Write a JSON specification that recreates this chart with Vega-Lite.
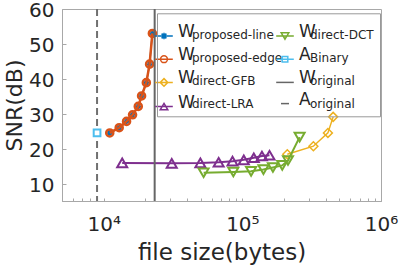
{
  "$schema": "https://vega.github.io/schema/vega-lite/v6.json",
  "width": 319,
  "height": 192,
  "autosize": "none",
  "padding": {"left": 62, "top": 9, "right": 18, "bottom": 69},
  "background": "white",
  "config": {
    "view": {"stroke": "#a8a8a8", "strokeWidth": 1},
    "font": "DejaVu Sans",
    "axis": {"domainColor": "#a8a8a8", "tickColor": "#a8a8a8", "labelColor": "#262626", "titleColor": "#262626", "labelFont": "DejaVu Sans", "titleFont": "DejaVu Sans", "labelFontSize": 20, "titleFontSize": 22, "titleFontWeight": "normal", "grid": false},
    "legend": {"orient": "none", "title": null, "labelFont": "DejaVu Sans", "labelColor": "#262626"}
  },
  "resolve": {"scale": {"color": "independent", "shape": "independent", "strokeDash": "independent"}, "legend": {"color": "independent", "shape": "independent", "strokeDash": "independent"}},
  "data": {
    "values": [
      {"series": "W proposed-line", "i": 1, "x": 11050, "y": 24.5},
      {"series": "W proposed-line", "i": 2, "x": 12930, "y": 26.0},
      {"series": "W proposed-line", "i": 3, "x": 14610, "y": 27.8},
      {"series": "W proposed-line", "i": 4, "x": 16140, "y": 29.7},
      {"series": "W proposed-line", "i": 5, "x": 17750, "y": 32.1},
      {"series": "W proposed-line", "i": 6, "x": 18750, "y": 35.1},
      {"series": "W proposed-line", "i": 7, "x": 20290, "y": 38.9},
      {"series": "W proposed-line", "i": 8, "x": 21420, "y": 44.2},
      {"series": "W proposed-line", "i": 9, "x": 22430, "y": 53.0},
      {"series": "W proposed-edge", "i": 1, "x": 11050, "y": 24.5},
      {"series": "W proposed-edge", "i": 2, "x": 12930, "y": 26.0},
      {"series": "W proposed-edge", "i": 3, "x": 14610, "y": 27.8},
      {"series": "W proposed-edge", "i": 4, "x": 16140, "y": 29.7},
      {"series": "W proposed-edge", "i": 5, "x": 17750, "y": 32.1},
      {"series": "W proposed-edge", "i": 6, "x": 18750, "y": 35.1},
      {"series": "W proposed-edge", "i": 7, "x": 20290, "y": 38.9},
      {"series": "W proposed-edge", "i": 8, "x": 21420, "y": 44.2},
      {"series": "W proposed-edge", "i": 9, "x": 22430, "y": 53.0},
      {"series": "W direct-GFB", "i": 1, "x": 210900, "y": 18.4},
      {"series": "W direct-GFB", "i": 2, "x": 325300, "y": 20.7},
      {"series": "W direct-GFB", "i": 3, "x": 414000, "y": 24.5},
      {"series": "W direct-GFB", "i": 4, "x": 451700, "y": 29.1},
      {"series": "W direct-LRA", "i": 1, "x": 13590, "y": 15.9},
      {"series": "W direct-LRA", "i": 2, "x": 30950, "y": 15.8},
      {"series": "W direct-LRA", "i": 3, "x": 49800, "y": 15.9},
      {"series": "W direct-LRA", "i": 4, "x": 67450, "y": 16.1},
      {"series": "W direct-LRA", "i": 5, "x": 84900, "y": 16.4},
      {"series": "W direct-LRA", "i": 6, "x": 102400, "y": 16.8},
      {"series": "W direct-LRA", "i": 7, "x": 120900, "y": 17.4},
      {"series": "W direct-LRA", "i": 8, "x": 138400, "y": 17.9},
      {"series": "W direct-LRA", "i": 9, "x": 156900, "y": 18.1},
      {"series": "W direct-DCT", "i": 1, "x": 52530, "y": 13.1},
      {"series": "W direct-DCT", "i": 2, "x": 86060, "y": 13.3},
      {"series": "W direct-DCT", "i": 3, "x": 115600, "y": 13.5},
      {"series": "W direct-DCT", "i": 4, "x": 141900, "y": 14.0},
      {"series": "W direct-DCT", "i": 5, "x": 166100, "y": 14.6},
      {"series": "W direct-DCT", "i": 6, "x": 193950, "y": 15.2},
      {"series": "W direct-DCT", "i": 7, "x": 213300, "y": 16.6},
      {"series": "W direct-DCT", "i": 8, "x": 258800, "y": 23.3},
      {"series": "A Binary", "i": 1, "x": 8950, "y": 24.5},
      {"series": "W original", "i": 1, "x": 23300},
      {"series": "A original", "i": 1, "x": 8950}
    ]
  },
  "encoding": {
    "x": {"field": "x", "type": "quantitative", "scale": {"type": "log", "domain": [5000, 1000000], "nice": false},
      "axis": {"title": "file size(bytes)", "titlePadding": 7, "titleFontSize": 23,
        "values": [5000, 6000, 7000, 8000, 9000, 10000, 20000, 30000, 40000, 50000, 60000, 70000, 80000, 90000, 100000, 200000, 300000, 400000, 500000, 600000, 700000, 800000, 900000, 1000000],
        "labelExpr": "datum.value == 10000 ? '10⁴' : datum.value == 100000 ? '10⁵' : datum.value == 1000000 ? '10⁶' : ''",
        "labelOverlap": false, "labelFlush": false, "labelPadding": 16, "tickSize": -3}},
    "y": {"field": "y", "type": "quantitative", "scale": {"domain": [5, 60], "nice": false, "zero": false},
      "axis": {"title": "SNR(dB)", "values": [10, 20, 30, 40, 50, 60], "tickSize": -4, "labelPadding": 12, "titlePadding": 2, "labelOffset": 1.5}}
  },
  "layer": [
    {"transform": [{"filter": "datum.series == 'W proposed-line'"}], "mark": {"type": "line", "color": "#0072BD", "strokeWidth": 1.5}, "encoding": {"order": {"field": "i"}}},
    {"transform": [{"filter": "datum.series == 'W proposed-line'"}], "mark": {"type": "point", "shape": "M-1,0H1M0,-1V1M-0.7,-0.7L0.7,0.7M-0.7,0.7L0.7,-0.7", "color": "#0072BD", "filled": false, "size": 30, "strokeWidth": 1.5, "opacity": 1}},
    {"transform": [{"filter": "datum.series == 'W proposed-edge'"}], "mark": {"type": "line", "color": "#D95319", "strokeWidth": 2.5}, "encoding": {"order": {"field": "i"}}},
    {"transform": [{"filter": "datum.series == 'W proposed-edge'"}], "mark": {"type": "point", "shape": "circle", "color": "#D95319", "filled": false, "size": 50, "strokeWidth": 2.5, "opacity": 1}},
    {"transform": [{"filter": "datum.series == 'W direct-GFB'"}], "mark": {"type": "line", "color": "#EDB120", "strokeWidth": 1.5}, "encoding": {"order": {"field": "i"}}},
    {"transform": [{"filter": "datum.series == 'W direct-GFB'"}], "mark": {"type": "point", "shape": "diamond", "color": "#EDB120", "filled": false, "size": 80, "strokeWidth": 1.5, "opacity": 1}},
    {"transform": [{"filter": "datum.series == 'W direct-LRA'"}], "mark": {"type": "line", "color": "#7E2F8E", "strokeWidth": 2}, "encoding": {"order": {"field": "i"}}},
    {"transform": [{"filter": "datum.series == 'W direct-LRA'"}], "mark": {"type": "point", "shape": "triangle-up", "color": "#7E2F8E", "filled": false, "size": 100, "strokeWidth": 2, "opacity": 1}},
    {"transform": [{"filter": "datum.series == 'W direct-DCT'"}], "mark": {"type": "line", "color": "#77AC30", "strokeWidth": 2}, "encoding": {"order": {"field": "i"}}},
    {"transform": [{"filter": "datum.series == 'W direct-DCT'"}], "mark": {"type": "point", "shape": "triangle-down", "color": "#77AC30", "filled": false, "size": 100, "strokeWidth": 2, "opacity": 1}},
    {"transform": [{"filter": "datum.series == 'A original'"}], "mark": {"type": "rule", "color": "#707070", "strokeWidth": 2, "strokeDash": [7, 4]}, "encoding": {"y": null}},
    {"transform": [{"filter": "datum.series == 'A Binary'"}], "mark": {"type": "point", "shape": "square", "color": "#4DBEEE", "fill": "white", "filled": true, "size": 45, "strokeWidth": 2, "stroke": "#4DBEEE", "opacity": 1}},
    {"transform": [{"filter": "datum.series == 'W original'"}], "mark": {"type": "rule", "color": "#666666", "strokeWidth": 2}, "encoding": {"y": null}},
    {"transform": [{"filter": "indexof(['W proposed-line','W proposed-edge','W direct-GFB','W direct-LRA'], datum.series) >= 0"}, {"calculate": "replace(datum.series, ' ', '_')", "as": "key"}],
      "mark": {"type": "point", "filled": false, "strokeWidth": 1.5, "opacity": 0},
      "encoding": {
        "color": {"field": "series", "type": "nominal",
          "scale": {"domain": ["W proposed-line", "W proposed-edge", "W direct-GFB", "W direct-LRA"], "range": ["#0072BD", "#D95319", "#EDB120", "#7E2F8E"]},
          "legend": {"legendX": 93.5, "legendY": 14.5, "rowPadding": 3.2, "padding": 0, "symbolOffset": 0, "labelOffset": 5.5, "labelFontSize": 17, "labelExpr": "slice(datum.label, 0, 1)", "symbolOpacity": 1, "symbolSize": 64, "symbolStrokeWidth": 1.5}},
        "shape": {"field": "series", "type": "nominal",
          "scale": {"domain": ["W proposed-line", "W proposed-edge", "W direct-GFB", "W direct-LRA"],
            "range": [
              "M-2.2,1H2.2M-0.8,1H0.8M0,0.2V1.8M-0.6,0.4L0.6,1.6M-0.6,1.6L0.6,0.4",
              "M-2.2,1H2.2M-0.85,1A0.85,0.85 0 1,0 0.85,1A0.85,0.85 0 1,0 -0.85,1",
              "M-2.2,1H2.2M0,0.05L0.95,1L0,1.95L-0.95,1Z",
              "M-2.2,1H2.2M0,0.2L0.95,1.8L-0.95,1.8Z"
            ]}},
        "strokeDash": {"field": "key", "type": "nominal",
          "scale": {"domain": ["W_proposed-line", "W_proposed-edge", "W_direct-GFB", "W_direct-LRA"], "range": [[1, 1]]},
          "legend": {"legendX": 95, "legendY": 17.8, "rowPadding": 11, "padding": 6, "symbolSize": 1, "symbolOpacity": 0, "labelOffset": 17, "labelFontSize": 12, "labelBaseline": "alphabetic", "labelExpr": "slice(datum.label, 2)"}}
      }},
    {"transform": [{"filter": "indexof(['W direct-DCT','A Binary','W original','A original'], datum.series) >= 0"}, {"calculate": "replace(datum.series, ' ', '_')", "as": "key"}],
      "mark": {"type": "point", "filled": false, "strokeWidth": 1.5, "opacity": 0},
      "encoding": {
        "color": {"field": "series", "type": "nominal",
          "scale": {"domain": ["W direct-DCT", "A Binary", "W original", "A original"], "range": ["#77AC30", "#4DBEEE", "#666666", "#666666"]},
          "legend": {"legendX": 214.5, "legendY": 14.5, "rowPadding": 3.2, "padding": 0, "symbolOffset": 0, "labelOffset": 5.5, "labelFontSize": 17, "labelExpr": "slice(datum.label, 0, 1)", "symbolOpacity": 1, "symbolSize": 64, "symbolStrokeWidth": 1.5}},
        "shape": {"field": "series", "type": "nominal",
          "scale": {"domain": ["W direct-DCT", "A Binary", "W original", "A original"],
            "range": [
              "M-2.2,1H2.2M0,1.8L0.95,0.2L-0.95,0.2Z",
              "M-2.2,1H2.2M-0.7,0.3H0.7V1.7H-0.7Z",
              "M-2.2,1H2.2",
              "M-1,1H1"
            ]}},
        "strokeDash": {"field": "key", "type": "nominal",
          "scale": {"domain": ["W_direct-DCT", "A_Binary", "W_original", "A_original"], "range": [[1, 1]]},
          "legend": {"legendX": 95, "legendY": 4.3, "rowPadding": 11, "padding": 6, "symbolSize": 1, "symbolOpacity": 0, "labelOffset": 135, "labelFontSize": 12, "labelBaseline": "alphabetic", "labelExpr": "slice(datum.label, 2)", "strokeColor": "#999999",
            "title": " ", "titleFontSize": 2, "titlePadding": 12}}
      }}
  ]
}
